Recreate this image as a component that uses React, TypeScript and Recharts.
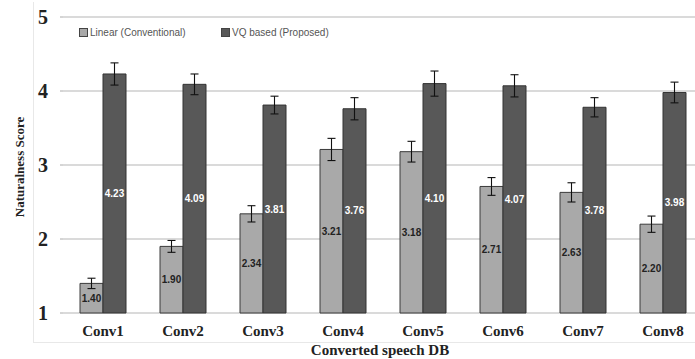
import React from 'react';
import { BarChart, Bar, XAxis, YAxis, CartesianGrid, ErrorBar, LabelList, Legend } from 'recharts';

const categories = ['Conv1', 'Conv2', 'Conv3', 'Conv4', 'Conv5', 'Conv6', 'Conv7', 'Conv8'];
const linearScores = [1.40, 1.90, 2.34, 3.21, 3.18, 2.71, 2.63, 2.20];
const vqScores = [4.23, 4.09, 3.81, 3.76, 4.10, 4.07, 3.78, 3.98];
const linearErr = [0.07, 0.08, 0.11, 0.15, 0.14, 0.12, 0.13, 0.11];
const vqErr = [0.15, 0.14, 0.12, 0.15, 0.17, 0.15, 0.13, 0.14];
const yTicks = [1, 2, 3, 4, 5];
const boundaryTicks = [0, 1, 2, 3, 4, 5, 6, 7, 8];
const seriesNames = ['Linear (Conventional)', 'VQ based (Proposed)'];

const data = categories.map((c, i) => ({
  name: c,
  linear: linearScores[i],
  vq: vqScores[i],
  linearErr: linearErr[i],
  vqErr: vqErr[i],
}));

const LINEAR_FILL = '#a9a9a9';
const VQ_FILL = '#585858';
const SERIF = '"Liberation Serif", "Times New Roman", serif';
const SANS = '"Liberation Sans", Arial, sans-serif';

const YLabel = (props: any) => {
  const vb = props.viewBox || {};
  const x = 19;
  const y = vb.y + vb.height / 2 + 2;
  return (
    <text x={x} y={y} transform={`rotate(-90, ${x}, ${y})`} textAnchor="middle" dominantBaseline="central"
      fontFamily={SERIF} fontWeight="bold" fontSize={13} fill="#222">
      Naturalness Score
    </text>
  );
};

const XLabel = (props: any) => {
  const vb = props.viewBox || {};
  const x = vb.x + vb.width / 2 - 3;
  return (
    <text x={x} y={355} textAnchor="middle" fontFamily={SERIF} fontWeight="bold" fontSize={15} fill="#222">
      Converted speech DB
    </text>
  );
};

const LegendContent = () => {
  const items = [
    { name: seriesNames[0], color: LINEAR_FILL, left: 0 },
    { name: seriesNames[1], color: VQ_FILL, left: 142 },
  ];
  return (
    <div style={{ position: 'relative', height: 14, width: 300 }}>
      {items.map((it) => (
        <div key={it.name} style={{ position: 'absolute', left: it.left, top: 0, display: 'flex', alignItems: 'center', fontFamily: SANS, fontSize: 10, color: '#555', whiteSpace: 'nowrap' }}>
          <span style={{ display: 'inline-block', width: 7, height: 7, background: it.color, border: '1px solid #444', marginRight: 2 }} />
          {it.name}
        </div>
      ))}
    </div>
  );
};

export default function App() {
  return (
    <div style={{ position: 'absolute', left: 0, top: 0, width: 695, height: 359, overflow: 'hidden', background: '#fff' }}>
      <div style={{ position: 'absolute', left: 33, top: 2, width: 700, height: 340, borderLeft: '1px solid #e8e8e8', borderBottom: '1px solid #e8e8e8' }} />
      <div style={{ position: 'absolute', left: 0, top: 0 }}>
        <BarChart width={703} height={359} data={data} margin={{ top: 17, right: 0, bottom: 0, left: 0 }} barGap={0}>
          <CartesianGrid vertical={false} stroke="#b5b5b5" strokeWidth={1} xAxisId="cat" />
          <XAxis xAxisId="bnd" type="number" domain={[0, 8]} ticks={boundaryTicks} height={0}
            tick={false} tickSize={4} tickLine={{ stroke: '#aaa' }} axisLine={{ stroke: '#aaa' }} allowDataOverflow />
          <XAxis xAxisId="cat" dataKey="name" height={46} tickSize={0} tickMargin={12} axisLine={false} tickLine={false}
            tick={{ fontFamily: SERIF, fontWeight: 'bold', fontSize: 15, fill: '#222' }} interval={0}
            label={{ content: <XLabel /> }} />
          <YAxis width={63} domain={[1, 5]} ticks={yTicks} axisLine={false} tickSize={3} tickMargin={12}
            tickLine={{ stroke: '#aaa' }}
            tick={{ fontFamily: SERIF, fontWeight: 'bold', fontSize: 20, fill: '#222' }}
            label={{ content: <YLabel /> }} />
          <Legend layout="horizontal" verticalAlign="middle" align="center" content={<LegendContent />}
            wrapperStyle={{ top: 27, left: 79, width: 320 }} />
          <Bar xAxisId="cat" dataKey="linear" name={seriesNames[0]} fill={LINEAR_FILL} stroke="#3a3a3a" strokeWidth={1} barSize={23} isAnimationActive={false}>
            <ErrorBar dataKey="linearErr" width={4} stroke="#111" strokeWidth={1.1} />
            <LabelList dataKey="linear" position="center" formatter={(v: any) => Number(v).toFixed(2)}
              style={{ fontFamily: SANS, fontSize: 10, fontWeight: 'bold', fill: '#222' }} />
          </Bar>
          <Bar xAxisId="cat" dataKey="vq" name={seriesNames[1]} fill={VQ_FILL} stroke="#333" strokeWidth={1} barSize={23} isAnimationActive={false}>
            <ErrorBar dataKey="vqErr" width={4} stroke="#111" strokeWidth={1.1} />
            <LabelList dataKey="vq" position="center" formatter={(v: any) => Number(v).toFixed(2)}
              style={{ fontFamily: SANS, fontSize: 10, fontWeight: 'bold', fill: '#fff' }} />
          </Bar>
        </BarChart>
      </div>
    </div>
  );
}
